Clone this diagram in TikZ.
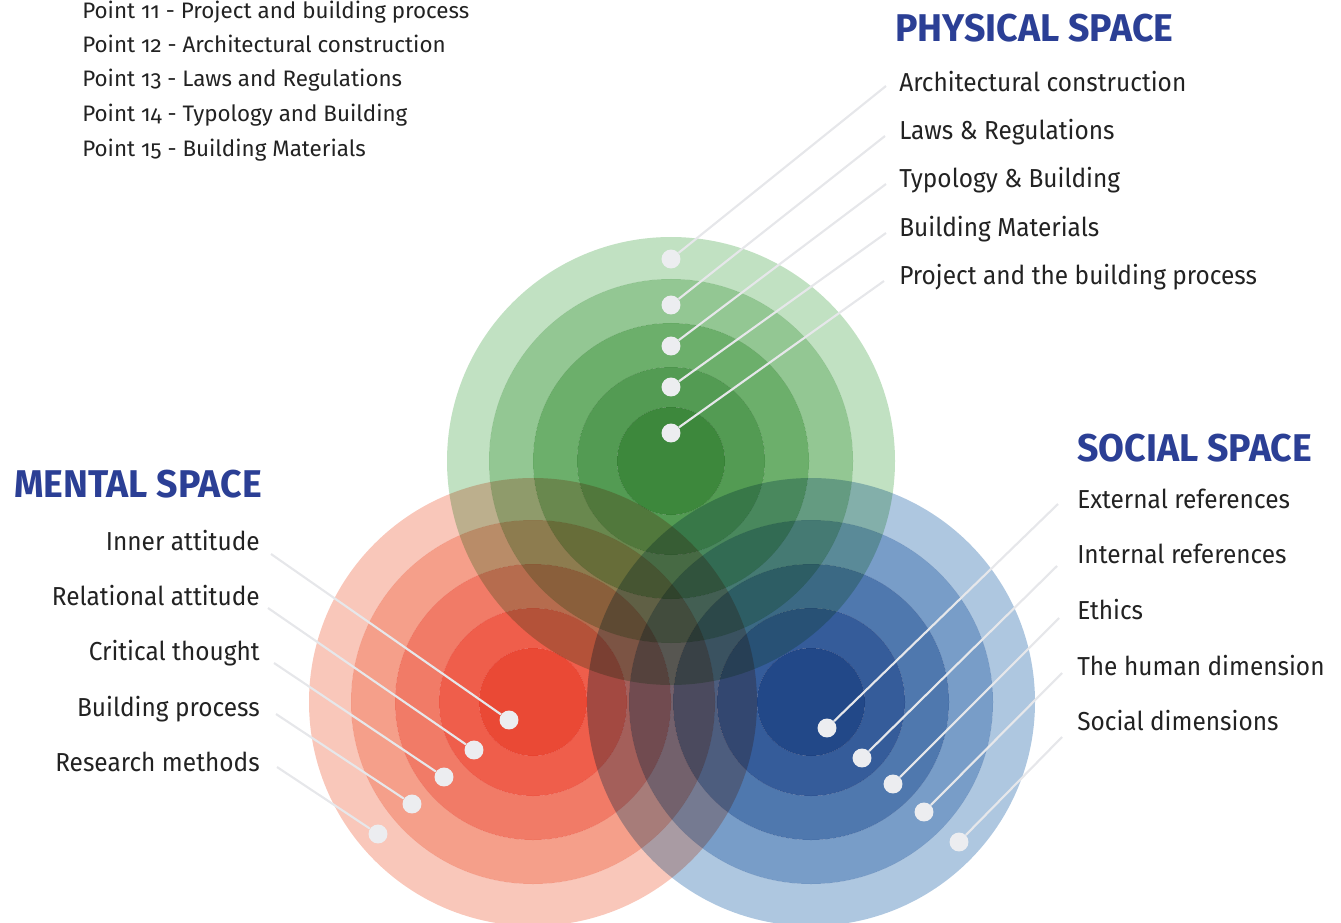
\documentclass[tikz,border=0pt]{standalone}
\usepackage{fontspec}
\setmainfont[Numbers=OldStyle]{Fira Sans}
\newfontfamily\itemfont[Numbers=OldStyle, FakeStretch=0.94]{Fira Sans}
\newfontfamily\headfont[FakeStretch=0.97]{Fira Sans}
\usepackage{tikz}
\usepackage{xcolor}
\definecolor{gA}{HTML}{C1E1C2}
\definecolor{gB}{HTML}{93C793}
\definecolor{gC}{HTML}{6CAF6B}
\definecolor{gD}{HTML}{539B53}
\definecolor{gE}{HTML}{3D883C}
\definecolor{rA}{HTML}{F9C7BA}
\definecolor{rB}{HTML}{F59F8A}
\definecolor{rC}{HTML}{F17B67}
\definecolor{rD}{HTML}{EF5E4B}
\definecolor{rE}{HTML}{EA4935}
\definecolor{bA}{HTML}{AEC7E0}
\definecolor{bB}{HTML}{789DC8}
\definecolor{bC}{HTML}{4F78AE}
\definecolor{bD}{HTML}{355C9A}
\definecolor{bE}{HTML}{224888}
\definecolor{headblue}{HTML}{2B3F95}
\definecolor{ink}{HTML}{222222}
\definecolor{dotgray}{HTML}{ECEDF0}
\definecolor{leadgray}{HTML}{E6E7EA}
\tikzset{
  spot/.style={circle, fill=dotgray, inner sep=0pt, minimum size=14.2pt},
  lead/.style={draw=leadgray, line width=1.6pt},
  head/.style={text=headblue, font=\headfont\fontsize{29}{32}\selectfont\bfseries, inner sep=0pt},
  item/.style={text=ink, font=\itemfont\fontsize{19.5}{22}\selectfont, inner sep=0pt},
  note/.style={text=ink, font=\fontsize{16.8}{20}\selectfont, inner sep=0pt, anchor=base west}
}

\begin{document}
\begin{tikzpicture}[x=0.75pt, y=-0.75pt]
      \useasboundingbox (0, 0) rectangle (1341, 923);
      \clip (0, 0) rectangle (1341, 923);
      % the three spaces, ring by ring
      \begin{scope}[blend mode=multiply, even odd rule]
        \fill[gA] (671, 461) circle (224) circle (182);
        \fill[gB] (671, 461) circle (182) circle (138);
        \fill[gC] (671, 461) circle (138) circle (94);
        \fill[gD] (671, 461) circle (94) circle (54);
        \fill[gE] (671, 461) circle (54);
        \fill[rA] (533, 702) circle (224) circle (182);
        \fill[rB] (533, 702) circle (182) circle (138);
        \fill[rC] (533, 702) circle (138) circle (94);
        \fill[rD] (533, 702) circle (94) circle (54);
        \fill[rE] (533, 702) circle (54);
        \fill[bA] (811, 702) circle (224) circle (182);
        \fill[bB] (811, 702) circle (182) circle (138);
        \fill[bC] (811, 702) circle (138) circle (94);
        \fill[bD] (811, 702) circle (94) circle (54);
        \fill[bE] (811, 702) circle (54);
      \end{scope}

      % list in the corner
      \node[note] (pt11) at (82, 19) {Point 11 - Project and building process};
      \node[note] (pt12) at (82, 53) {Point 12 - Architectural construction};
      \node[note] (pt13) at (82, 87) {Point 13 - Laws and Regulations};
      \node[note] (pt14) at (82, 122) {Point 14 - Typology and Building};
      \node[note] (pt15) at (82, 157) {Point 15 - Building Materials};

      % physical space
      \node[head, anchor=base west] (phys) at (895, 42) {PHYSICAL SPACE};
      \node[item, anchor=base west] (ph1) at (899, 92) {Architectural construction};
      \node[item, anchor=base west] (ph2) at (899, 140) {Laws \& Regulations};
      \node[item, anchor=base west] (ph3) at (899, 188) {Typology \& Building};
      \node[item, anchor=base west] (ph4) at (899, 237) {Building Materials};
      \node[item, anchor=base west] (ph5) at (899, 285) {Project and the building process};
      \coordinate (phe1) at (886, 86);
      \coordinate (phe2) at (885, 136);
      \coordinate (phe3) at (886, 184);
      \coordinate (phe4) at (886, 233);
      \coordinate (phe5) at (884, 281);
      \node[spot] (phd1) at (671, 259) {};
      \node[spot] (phd2) at (671, 305) {};
      \node[spot] (phd3) at (671, 346) {};
      \node[spot] (phd4) at (671, 387) {};
      \node[spot] (phd5) at (671, 433) {};
      \draw[lead] (phd1) -- (phe1);
      \draw[lead] (phd2) -- (phe2);
      \draw[lead] (phd3) -- (phe3);
      \draw[lead] (phd4) -- (phe4);
      \draw[lead] (phd5) -- (phe5);

      % mental space
      \node[head, anchor=base east] (ment) at (262, 497) {MENTAL SPACE};
      \node[item, anchor=base east] (me1) at (260, 550) {Inner attitude};
      \node[item, anchor=base east] (me2) at (260, 605) {Relational attitude};
      \node[item, anchor=base east] (me3) at (260, 660) {Critical thought};
      \node[item, anchor=base east] (me4) at (260, 716) {Building process};
      \node[item, anchor=base east] (me5) at (260, 771) {Research methods};
      \coordinate (mee1) at (271, 554);
      \coordinate (mee2) at (268, 608);
      \coordinate (mee3) at (274, 663);
      \coordinate (mee4) at (276, 714);
      \coordinate (mee5) at (277, 767);
      \node[spot] (med1) at (509, 720) {};
      \node[spot] (med2) at (474, 750) {};
      \node[spot] (med3) at (444, 777) {};
      \node[spot] (med4) at (412, 804) {};
      \node[spot] (med5) at (378, 834) {};
      \draw[lead] (med1) -- (mee1);
      \draw[lead] (med2) -- (mee2);
      \draw[lead] (med3) -- (mee3);
      \draw[lead] (med4) -- (mee4);
      \draw[lead] (med5) -- (mee5);

      % social space
      \node[head, anchor=base west] (soci) at (1077, 461) {SOCIAL SPACE};
      \node[item, anchor=base west] (so1) at (1077, 508) {External references};
      \node[item, anchor=base west] (so2) at (1077, 563) {Internal references};
      \node[item, anchor=base west] (so3) at (1077, 619) {Ethics};
      \node[item, anchor=base west] (so4) at (1077, 675) {The human dimension};
      \node[item, anchor=base west] (so5) at (1077, 730) {Social dimensions};
      \coordinate (soe1) at (1058, 504);
      \coordinate (soe2) at (1057, 566);
      \coordinate (soe3) at (1059, 618);
      \coordinate (soe4) at (1062, 673);
      \coordinate (soe5) at (1062, 737);
      \node[spot] (sod1) at (827, 728) {};
      \node[spot] (sod2) at (862, 758) {};
      \node[spot] (sod3) at (893, 784) {};
      \node[spot] (sod4) at (924, 812) {};
      \node[spot] (sod5) at (959, 842) {};
      \draw[lead] (sod1) -- (soe1);
      \draw[lead] (sod2) -- (soe2);
      \draw[lead] (sod3) -- (soe3);
      \draw[lead] (sod4) -- (soe4);
      \draw[lead] (sod5) -- (soe5);
    \end{tikzpicture}
\end{document}
